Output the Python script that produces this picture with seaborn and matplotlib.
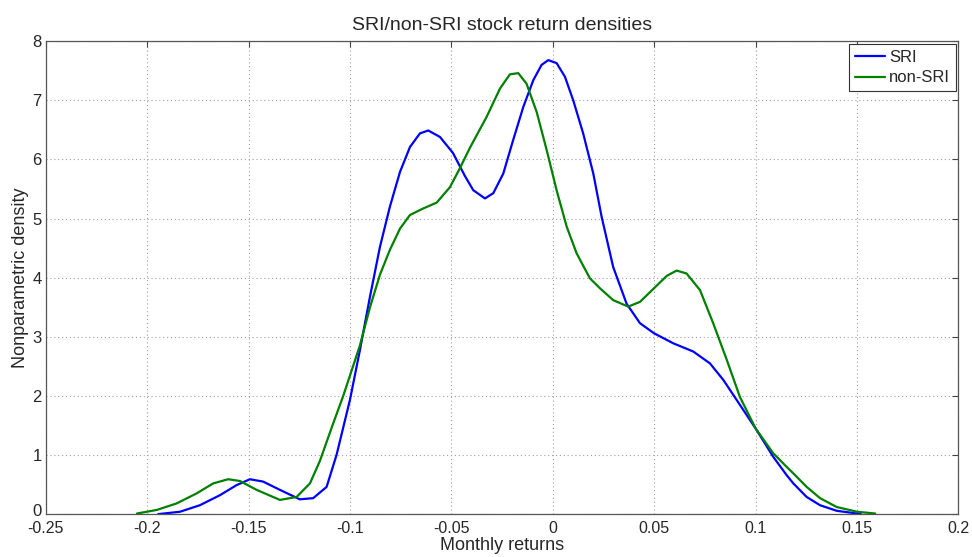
import matplotlib
matplotlib.use("Agg")
import matplotlib.pyplot as plt
import matplotlib.transforms as mtransforms
import seaborn as sns
import pandas as pd

# ---- data ----
sri_x = [-0.1945, -0.1838, -0.174, -0.1641, -0.1559, -0.1493, -0.1428, -0.1345, -0.1247,
         -0.1181, -0.1115, -0.1066, -0.1, -0.0951, -0.0901, -0.0852, -0.0803, -0.0753,
         -0.0704, -0.0655, -0.0614, -0.0556, -0.0492, -0.0433, -0.0392, -0.0334,
         -0.0293, -0.0244, -0.0195, -0.0145, -0.0096, -0.0055, -0.0022, 0.0019, 0.006,
         0.0101, 0.015, 0.02, 0.0241, 0.0298, 0.0364, 0.043, 0.0499, 0.0594, 0.0693,
         0.0775, 0.0841, 0.0907, 0.1, 0.1087, 0.1153, 0.1186, 0.1252, 0.1318, 0.14,
         0.15, 0.152]
sri_y = [0.0, 0.04, 0.15, 0.32, 0.49, 0.59, 0.55, 0.41, 0.25,
         0.27, 0.46, 1.0, 1.93, 2.77, 3.68, 4.52, 5.2, 5.79,
         6.21, 6.44, 6.49, 6.38, 6.11, 5.72, 5.48, 5.34,
         5.43, 5.76, 6.33, 6.89, 7.34, 7.6, 7.68, 7.63, 7.4,
         7.0, 6.44, 5.76, 5.03, 4.18, 3.56, 3.23, 3.06, 2.89, 2.75,
         2.55, 2.27, 1.93, 1.45, 0.97, 0.66, 0.52, 0.29, 0.15, 0.056,
         0.01, 0.0]

non_x = [-0.205, -0.1953, -0.1855, -0.1756, -0.1674, -0.16, -0.1542, -0.146, -0.1345,
         -0.1263, -0.1197, -0.1148, -0.1084, -0.1033, -0.0951, -0.0901, -0.0852, -0.0803,
         -0.0753, -0.0704, -0.0639, -0.0572, -0.0507, -0.0458, -0.0408, -0.0326,
         -0.026, -0.0211, -0.017, -0.0129, -0.0079, -0.003, 0.0019, 0.0069, 0.0118,
         0.0183, 0.0233, 0.0298, 0.0372, 0.043, 0.0499, 0.0562, 0.0611, 0.066, 0.0726,
         0.0791, 0.0858, 0.0923, 0.1, 0.1087, 0.1153, 0.1186, 0.1252, 0.1318, 0.14,
         0.15, 0.159]
non_y = [0.01, 0.07, 0.18, 0.35, 0.52, 0.59, 0.56, 0.41, 0.24,
         0.29, 0.52, 0.9, 1.52, 2.0, 2.85, 3.5, 4.05, 4.47,
         4.83, 5.06, 5.17, 5.27, 5.53, 5.85, 6.2, 6.72,
         7.2, 7.44, 7.46, 7.28, 6.8, 6.16, 5.48, 4.86, 4.41,
         3.99, 3.82, 3.62, 3.51, 3.59, 3.82, 4.03, 4.12, 4.07, 3.79,
         3.23, 2.61, 1.98, 1.45, 1.03, 0.8, 0.69, 0.46, 0.27, 0.12,
         0.04, 0.01]

x_ticks = [-0.25, -0.2, -0.15, -0.1, -0.05, 0, 0.05, 0.1, 0.15, 0.2]
x_tick_labels = ["-0.25", "-0.2", "-0.15", "-0.1", "-0.05", "0", "0.05", "0.1", "0.15", "0.2"]
y_ticks = [0, 1, 2, 3, 4, 5, 6, 7, 8]

df = pd.concat([
    pd.DataFrame({"x": sri_x, "y": sri_y, "series": "SRI"}),
    pd.DataFrame({"x": non_x, "y": non_y, "series": "non-SRI"}),
], ignore_index=True)

sns.set_style("white")
plt.rcParams["font.family"] = ["Liberation Sans", "DejaVu Sans"]

fig = plt.figure(figsize=(9.72, 5.57), dpi=100)
ax = fig.add_axes([0.047, 0.077, 0.939, 0.849])

sns.lineplot(data=df, x="x", y="y", hue="series", estimator=None, sort=False,
             palette={"SRI": "#0000ff", "non-SRI": "#008000"}, linewidth=1.6, ax=ax)

ax.set_xlim(-0.25, 0.2)
ax.set_ylim(0, 8)
ax.set_xticks(x_ticks)
ax.set_xticklabels(x_tick_labels)
ax.set_yticks(y_ticks)
ax.grid(True, color="#a0a0a0", linestyle=(0, (1, 2.5)), linewidth=0.8)
ax.tick_params(direction="in", top=True, right=True, length=4, width=0.8,
               color="#444444", labelsize=12)
ax.tick_params(axis="x", pad=5, labelsize=11.5)
ax.tick_params(axis="y", pad=3)
for s in ax.spines.values():
    s.set_color("#555555")
    s.set_linewidth(0.9)

# lift the bottom y tick label slightly so it does not collide with "-0.25"
lbl0 = ax.get_yticklabels()[0]
lbl0.set_transform(lbl0.get_transform() +
                   mtransforms.ScaledTranslation(0, 3 / 72, fig.dpi_scale_trans))

ax.set_title("SRI/non-SRI stock return densities", fontsize=14, pad=8)
ax.set_xlabel("Monthly returns", fontsize=13, labelpad=1)
ax.set_ylabel("Nonparametric density", fontsize=13, labelpad=2)

leg = ax.legend(loc="upper right", fontsize=12, frameon=True, fancybox=False,
                edgecolor="#333333", framealpha=1, borderaxespad=0.15,
                handlelength=1.8, handletextpad=0.25, borderpad=0.35, labelspacing=0.35)
leg.get_frame().set_linewidth(0.8)

fig.savefig("out.png", dpi=100)
